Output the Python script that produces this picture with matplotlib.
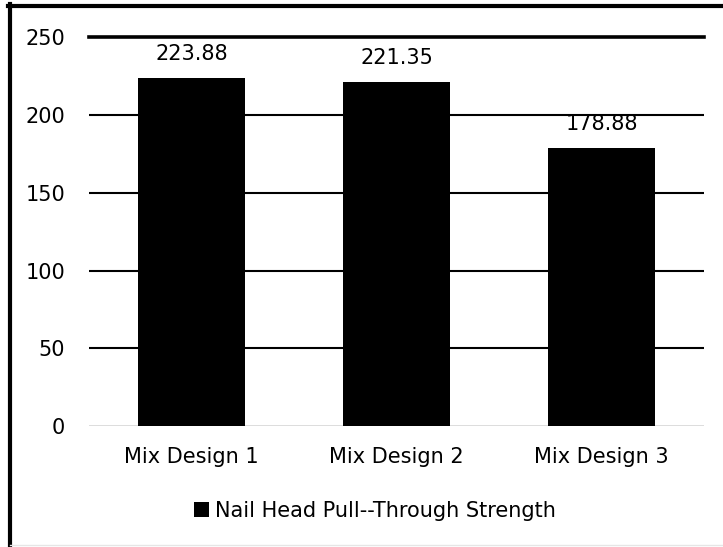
import matplotlib.pyplot as plt
from matplotlib.lines import Line2D

categorias = ['Mix Design 1', 'Mix Design 2', 'Mix Design 3']
resistencia = [223.88, 221.35, 178.88]
etiquetas = ['223.88', '221.35', '178.88']
serie = 'Nail Head Pull--Through Strength'

plt.rcParams['font.family'] = ['DejaVu Sans']
tam = 15

fig = plt.figure(figsize=(7.23, 5.47), dpi=100)
ax = fig.add_axes([0.123, 0.221, 0.851, 0.711])

x = range(len(categorias))
barras = ax.bar(x, resistencia, width=0.52, color='black', label=serie, zorder=3)

# etiquetas de datos sobre cada barra
for b, txt in zip(barras, etiquetas):
    ax.annotate(txt, (b.get_x() + b.get_width() / 2, b.get_height()),
                xytext=(0, 10), textcoords='offset points',
                ha='center', va='bottom', fontsize=tam, color='black')

ax.set_ylim(0, 250)
ax.set_xlim(-0.5, 2.5)
ax.set_yticks([0, 50, 100, 150, 200, 250])
ax.set_xticks(list(x))
ax.set_xticklabels(categorias)
ax.tick_params(axis='both', length=0, labelsize=tam, colors='black')
ax.tick_params(axis='y', pad=17)
ax.tick_params(axis='x', pad=15)

# lineas de cuadricula
for v in [50, 100, 150, 200]:
    ax.axhline(v, color='black', lw=1.5, zorder=1)
ax.axhline(250, color='black', lw=2.6, zorder=1, clip_on=False)
ax.axhline(0, color='#d9d9d9', lw=2, zorder=2)

for s in ax.spines.values():
    s.set_visible(False)

ax.legend(loc='center', bbox_to_anchor=(0.519, 0.066), bbox_transform=fig.transFigure,
          frameon=False, fontsize=tam, handlelength=0.7, handleheight=0.7,
          handletextpad=0.3)

# borde de la figura
fig.add_artist(Line2D([0.0133, 0.0133], [0.0, 0.992], color='black', lw=3,
                      transform=fig.transFigure))
fig.add_artist(Line2D([0.0113, 1.0], [0.989, 0.989], color='black', lw=3,
                      transform=fig.transFigure))
fig.add_artist(Line2D([0.0133, 1.0], [0.003, 0.003], color='#e6e6e6', lw=1,
                      transform=fig.transFigure))

fig.savefig('out.png', dpi=100)
